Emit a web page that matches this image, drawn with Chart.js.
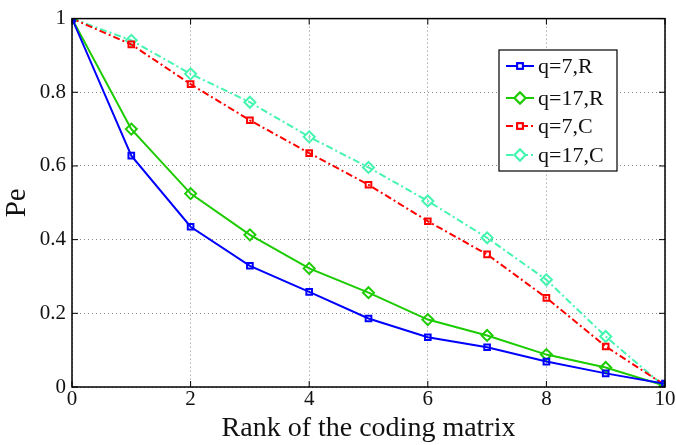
<!DOCTYPE html>
<html>
<head>
<meta charset="utf-8">
<script src="https://cdn.jsdelivr.net/npm/chart.js@4"></script>
<style>
  html, body { margin: 0; padding: 0; background: #fff; }
  #wrap { width: 676px; height: 445px; }
</style>
</head>
<body>
<div id="wrap"><canvas id="peChart" width="676" height="445"></canvas></div>
<script>
// values
const ranks = [0, 1, 2, 3, 4, 5, 6, 7, 8, 9, 10];
const q7R  = [1, 0.628, 0.435, 0.329, 0.258, 0.186, 0.135, 0.108, 0.069, 0.037, 0.009];
const q17R = [1, 0.700, 0.525, 0.413, 0.322, 0.256, 0.183, 0.140, 0.088, 0.053, 0.003];
const q7C  = [1, 0.930, 0.822, 0.724, 0.635, 0.549, 0.450, 0.360, 0.242, 0.110, 0.005];
const q17C = [1, 0.941, 0.850, 0.773, 0.679, 0.596, 0.505, 0.405, 0.291, 0.137, 0.000];
const seriesNames = ["q=7,R", "q=17,R", "q=7,C", "q=17,C"];
const xTicks = [0, 2, 4, 6, 8, 10];
const yTicks = [0, 0.2, 0.4, 0.6, 0.8, 1];

const serif = "'Liberation Serif', 'DejaVu Serif', serif";
const dashDot = [7, 3, 2, 3];

function makeSet(label, data, color, marker, dash) {
  return {
    label: label,
    data: ranks.map((r, i) => ({ x: r, y: data[i] })),
    borderColor: color,
    backgroundColor: "rgba(0,0,0,0)",
    borderWidth: 2,
    borderDash: dash,
    pointStyle: marker,
    pointRadius: marker === "rect" ? 4 : 5.5,
    pointBorderWidth: 2,
    pointBorderColor: color,
    pointBackgroundColor: "rgba(0,0,0,0)",
    tension: 0,
  };
}

// frame with inward ticks (matlab style) + legend box
const framePlugin = {
  id: "frame",
  afterDraw(chart) {
    const ctx = chart.ctx;
    const a = chart.chartArea;
    const xs = chart.scales.x;
    const ys = chart.scales.y;
    ctx.save();
    ctx.strokeStyle = "#000";
    ctx.lineWidth = 1.5;
    ctx.setLineDash([]);
    ctx.strokeRect(a.left, a.top, a.right - a.left, a.bottom - a.top);
    ctx.lineWidth = 1;
    xTicks.forEach((t) => {
      const px = xs.getPixelForValue(t);
      ctx.beginPath();
      ctx.moveTo(px, a.bottom); ctx.lineTo(px, a.bottom - 6);
      ctx.moveTo(px, a.top); ctx.lineTo(px, a.top + 6);
      ctx.stroke();
    });
    yTicks.forEach((t) => {
      const py = ys.getPixelForValue(t);
      ctx.beginPath();
      ctx.moveTo(a.left, py); ctx.lineTo(a.left + 6, py);
      ctx.moveTo(a.right, py); ctx.lineTo(a.right - 6, py);
      ctx.stroke();
    });

    // legend
    const bx = 499, by = 50, bw = 118, bh = 121;
    ctx.fillStyle = "#fff";
    ctx.fillRect(bx, by, bw, bh);
    ctx.strokeStyle = "#000";
    ctx.lineWidth = 1.2;
    ctx.strokeRect(bx, by, bw, bh);
    const rows = [66, 98, 126, 155];
    chart.data.datasets.forEach((ds, i) => {
      const y = rows[i];
      ctx.strokeStyle = ds.borderColor;
      ctx.lineWidth = 2;
      ctx.setLineDash(ds.borderDash || []);
      ctx.beginPath();
      ctx.moveTo(506, y); ctx.lineTo(534, y);
      ctx.stroke();
      ctx.setLineDash([]);
      Chart.helpers.drawPoint(ctx, {
        pointStyle: ds.pointStyle,
        radius: ds.pointRadius,
        borderWidth: 2,
      }, 520, y);
      ctx.fillStyle = "#fff";
      ctx.fill();
      ctx.stroke();
      ctx.fillStyle = "#111";
      ctx.font = "22px " + serif;
      ctx.textBaseline = "middle";
      ctx.textAlign = "left";
      ctx.fillText(seriesNames[i], 538, y + 1);
    });
    ctx.restore();
  },
};

new Chart(document.getElementById("peChart"), {
  type: "line",
  data: {
    datasets: [
      makeSet(seriesNames[0], q7R, "#0000ff", "rect", []),
      makeSet(seriesNames[1], q17R, "#1ccc00", "rectRot", []),
      makeSet(seriesNames[2], q7C, "#ff0000", "rect", dashDot),
      makeSet(seriesNames[3], q17C, "#44f5b0", "rectRot", dashDot),
    ],
  },
  options: {
    responsive: false,
    animation: false,
    layout: { padding: { top: 13, right: 11, left: 0, bottom: 0 } },
    plugins: {
      legend: { display: false },
      tooltip: { enabled: false },
    },
    scales: {
      x: {
        type: "linear",
        min: 0,
        max: 10,
        afterBuildTicks: (s) => { s.ticks = xTicks.map((v) => ({ value: v })); },
        afterFit: (s) => { s.height = 58; },
        ticks: {
          color: "#111",
          font: { family: serif, size: 21 },
          padding: 0,
          callback: (v) => String(v),
        },
        grid: { color: "#888", lineWidth: 1, drawTicks: false },
        border: { display: false, dash: [1, 3] },
        title: {
          display: true,
          text: "Rank of the coding matrix",
          color: "#111",
          font: { family: serif, size: 28 },
          padding: { top: -5, bottom: 0 },
        },
      },
      y: {
        type: "linear",
        min: 0,
        max: 1,
        afterBuildTicks: (s) => { s.ticks = yTicks.map((v) => ({ value: v })); },
        afterFit: (s) => { s.width = 72; },
        ticks: {
          color: "#111",
          font: { family: serif, size: 21 },
          padding: 6,
          callback: (v) => String(Math.round(v * 10) / 10),
        },
        grid: { color: "#888", lineWidth: 1, drawTicks: false },
        border: { display: false, dash: [1, 3] },
        title: {
          display: true,
          text: "Pe",
          color: "#111",
          font: { family: serif, size: 29 },
          padding: { top: 0, bottom: 2 },
        },
      },
    },
  },
  plugins: [framePlugin],
});
</script>
</body>
</html>
